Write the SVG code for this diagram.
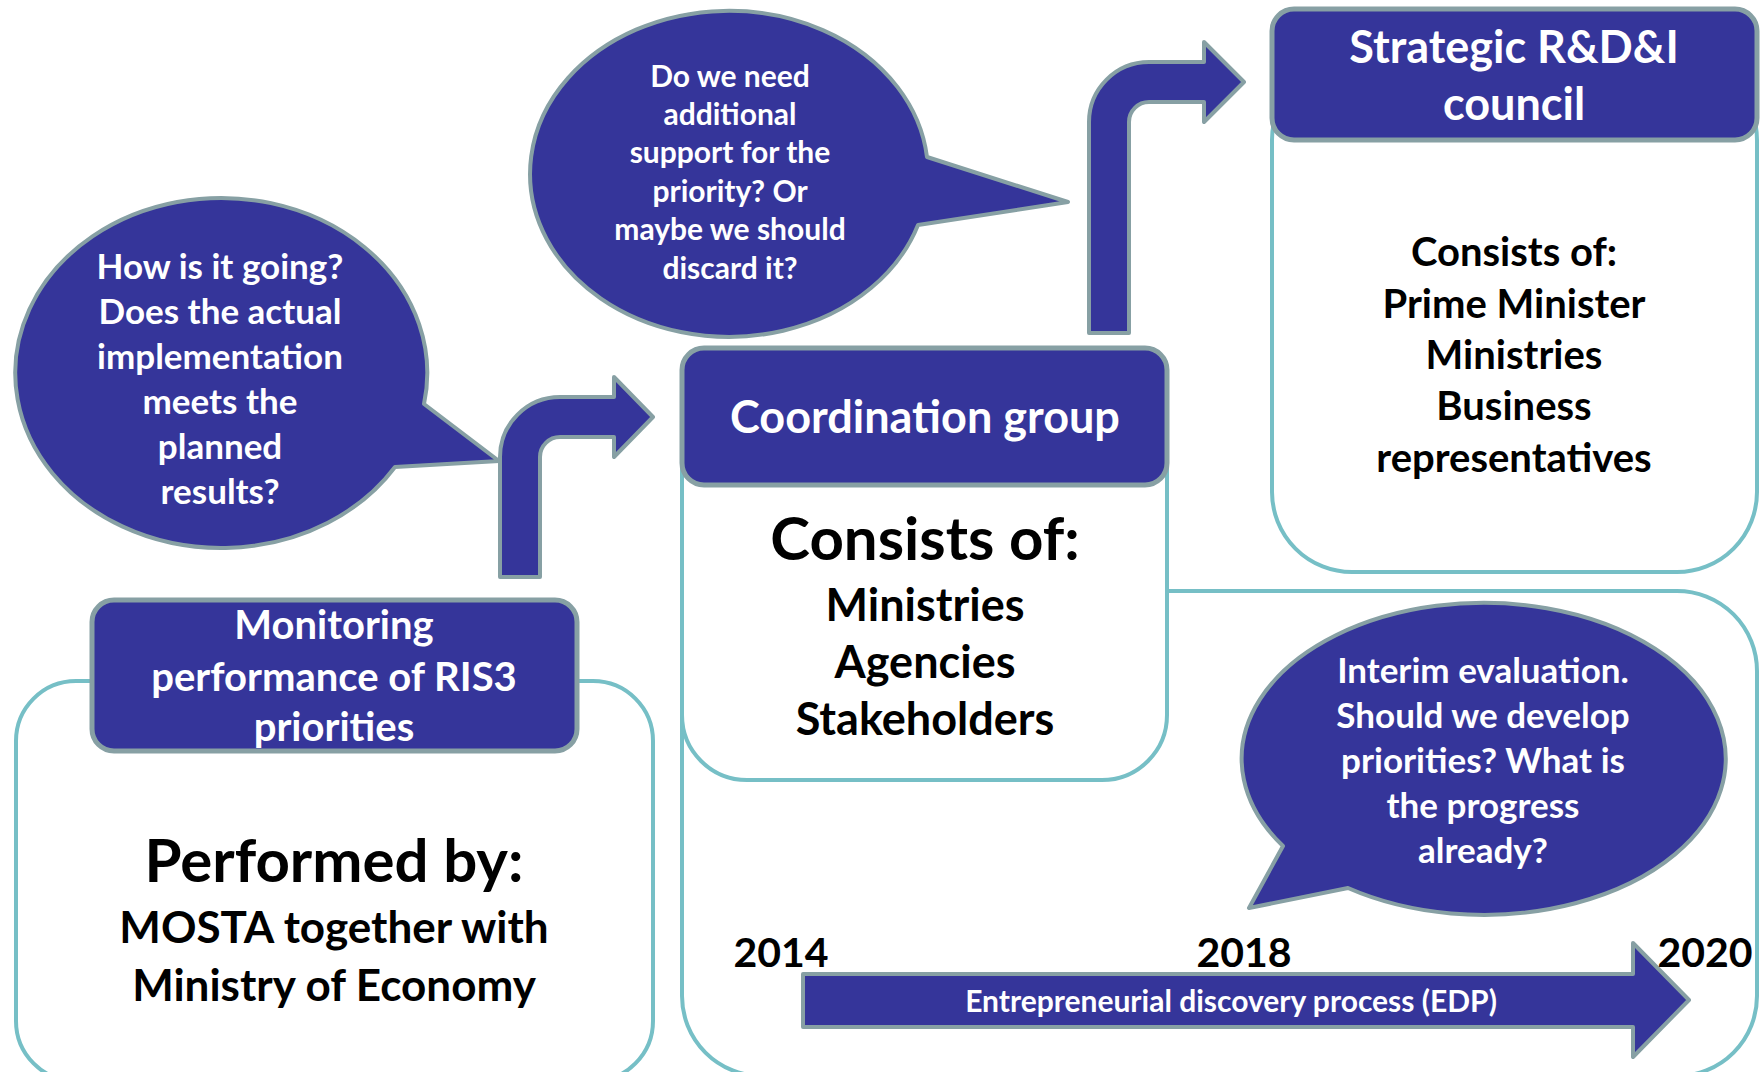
<svg xmlns="http://www.w3.org/2000/svg" width="1760" height="1072" viewBox="0 0 1760 1072">
<style>
.dark{fill:#35359A;stroke:#87A0A4;stroke-width:4;stroke-linejoin:round}
.hdr{fill:#35359A;stroke:#87A0A4;stroke-width:5}
.body{fill:#FFFFFF;stroke:#76BFC6;stroke-width:4}
.frame{fill:none;stroke:#76BFC6;stroke-width:4}
text{font-family:Lato,"Open Sans","Liberation Sans",sans-serif;font-weight:700;text-anchor:middle}
.w{fill:#FFFFFF}
.k{fill:#000000}
</style>
<rect width="1760" height="1072" fill="#FFFFFF"/>

<g id="edp-frame">
<rect class="frame" x="682" y="591" width="1075" height="485" rx="80" ry="80"/>
</g>

<g id="coordination-group">
<rect class="body" x="682" y="390" width="485" height="390" rx="65" ry="65"/>
<rect class="hdr" x="682" y="348" width="485" height="137" rx="22" ry="22"/>
<text class="w" x="925" y="433" font-size="45">Coordination group</text>
<text class="k" x="925" y="560" font-size="60">Consists of:</text>
<text class="k" x="925" y="621" font-size="45">Ministries</text>
<text class="k" x="925" y="678" font-size="45">Agencies</text>
<text class="k" x="925" y="735" font-size="45">Stakeholders</text>
</g>

<g id="strategic-council">
<rect class="body" x="1272" y="60" width="485" height="512" rx="80" ry="80"/>
<rect class="hdr" x="1272" y="9" width="485" height="131" rx="22" ry="22"/>
<text class="w" x="1514" y="63" font-size="45">Strategic R&amp;D&amp;I</text>
<text class="w" x="1514" y="120" font-size="45">council</text>
<text class="k" x="1514" y="266" font-size="40">Consists of:</text>
<text class="k" x="1514" y="318" font-size="40">Prime Minister</text>
<text class="k" x="1514" y="369" font-size="40">Ministries</text>
<text class="k" x="1514" y="420" font-size="40">Business</text>
<text class="k" x="1514" y="472" font-size="40">representatives</text>
</g>

<g id="monitoring">
<rect class="body" x="16" y="681" width="637" height="400" rx="60" ry="60"/>
<rect class="hdr" x="92" y="600" width="485" height="151" rx="22" ry="22"/>
<text class="w" x="334" y="639" font-size="40">Monitoring</text>
<text class="w" x="334" y="691" font-size="40">performance of RIS3</text>
<text class="w" x="334" y="741" font-size="40">priorities</text>
<text class="k" x="334" y="882" font-size="60">Performed by:</text>
<text class="k" x="334" y="943" font-size="44">MOSTA together with</text>
<text class="k" x="334" y="1001" font-size="44">Ministry of Economy</text>
</g>

<g id="bubble-progress">
<path class="dark" d="M424,404 L499,461 L395,467 A206 175 0 1 1 424,404 Z"/>
<text class="w" x="220" y="279" font-size="35">How is it going?</text>
<text class="w" x="220" y="324" font-size="35">Does the actual</text>
<text class="w" x="220" y="369" font-size="35">implementation</text>
<text class="w" x="220" y="414" font-size="35">meets the</text>
<text class="w" x="220" y="459" font-size="35">planned</text>
<text class="w" x="220" y="504" font-size="35">results?</text>
</g>

<g id="bubble-support">
<path class="dark" d="M927,157 L1068,202 L918,225 A199 163 0 1 1 927,157 Z"/>
<text class="w" x="730" y="87" font-size="30">Do we need</text>
<text class="w" x="730" y="125" font-size="30">additional</text>
<text class="w" x="730" y="163" font-size="30">support for the</text>
<text class="w" x="730" y="202" font-size="30">priority? Or</text>
<text class="w" x="730" y="240" font-size="30">maybe we should</text>
<text class="w" x="730" y="279" font-size="30">discard it?</text>
</g>

<g id="bubble-interim">
<path class="dark" d="M1283,846 L1249,908 L1348,888 A242 156 0 1 0 1283,846 Z"/>
<text class="w" x="1483" y="683" font-size="35">Interim evaluation.</text>
<text class="w" x="1483" y="728" font-size="35">Should we develop</text>
<text class="w" x="1483" y="773" font-size="35">priorities? What is</text>
<text class="w" x="1483" y="818" font-size="35">the progress</text>
<text class="w" x="1483" y="863" font-size="35">already?</text>
</g>

<g id="timeline">
<polygon class="dark" points="803,974 1633,974 1633,943 1689,1000 1633,1057 1633,1027 803,1027"/>
<text class="w" x="1231" y="1012" font-size="30">Entrepreneurial discovery process (EDP)</text>
<text class="k" x="781" y="967" font-size="41">2014</text>
<text class="k" x="1244" y="967" font-size="41">2018</text>
<text class="k" x="1705" y="967" font-size="41">2020</text>
</g>

<g id="connectors">
<path class="dark" d="M500,577 L500,457 A60 60 0 0 1 560,397 L614,397 L614,377 L653,417 L614,457 L614,437 L560,437 A20 20 0 0 0 540,457 L540,577 Z"/>
<path class="dark" d="M1089,333 L1089,122 A60 60 0 0 1 1149,62 L1204,62 L1204,42 L1244,82 L1204,122 L1204,102 L1149,102 A20 20 0 0 0 1129,122 L1129,333 Z"/>
</g>
</svg>
